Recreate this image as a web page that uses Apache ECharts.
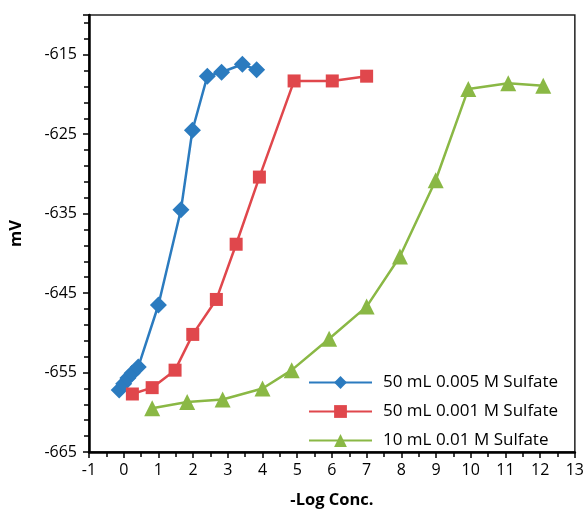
<!DOCTYPE html>
<html><head><meta charset="utf-8">
<script src="https://cdn.jsdelivr.net/npm/echarts@6/dist/echarts.min.js"></script>
<style>html,body{margin:0;padding:0;background:#fff}#c{width:587px;height:514px}</style>
</head><body><div id="c"></div>
<script>
const seriesNames = ["50 mL 0.005 M Sulfate", "50 mL 0.001 M Sulfate", "10 mL 0.01 M Sulfate"];
const blueX = [-0.13, 0.0, 0.12, 0.24, 0.42, 1.0, 1.65, 1.98, 2.41, 2.82, 3.42, 3.83];
const blueY = [-657.2, -656.4, -655.7, -655.1, -654.3, -646.5, -634.5, -624.5, -617.7, -617.2, -616.2, -616.9];
const redX = [0.25, 0.82, 1.48, 1.99, 2.67, 3.24, 3.91, 4.91, 6.01, 7.0];
const redY = [-657.7, -656.9, -654.7, -650.2, -645.8, -638.85, -630.4, -618.3, -618.3, -617.7];
const greenX = [0.82, 1.83, 2.85, 4.0, 4.84, 5.92, 7.0, 7.96, 8.99, 9.93, 11.08, 12.09];
const greenY = [-659.5, -658.7, -658.4, -657.0, -654.7, -650.75, -646.7, -640.4, -630.8, -619.3, -618.6, -618.9];
const colors = ["#2b7bbf", "#e0474c", "#8ab845"];
const symbols = ["diamond", "rect", "triangle"];
const symbolSizes = [17, 13, 16];

function pairs(xs, ys) { return xs.map((x, i) => [x, ys[i]]); }
const dataSets = [pairs(blueX, blueY), pairs(redX, redY), pairs(greenX, greenY)];

const font = "'Open Sans', 'Noto Sans', sans-serif";
const chart = echarts.init(document.getElementById('c'), null, {renderer: 'canvas'});
chart.setOption({
  animation: false,
  color: colors,
  grid: {left: 89, right: 12, top: 15, bottom: 61, show: true, borderColor: '#222', borderWidth: 1.5, containLabel: false},
  xAxis: {
    type: 'value', min: -1, max: 13, interval: 1,
    name: '-Log Conc.', nameLocation: 'middle', nameGap: 40,
    nameTextStyle: {fontFamily: font, fontWeight: 'bold', fontSize: 16.5, color: '#000'},
    axisLine: {show: true, onZero: false, lineStyle: {color: '#000', width: 2.5}},
    axisTick: {show: true, inside: false, length: 6, lineStyle: {color: '#000', width: 1.5}},
    minorTick: {show: true, splitNumber: 2, length: 5, lineStyle: {color: '#000', width: 1.5}},
    splitLine: {show: false},
    axisLabel: {fontFamily: font, fontSize: 16, color: '#000', margin: 10}
  },
  yAxis: {
    type: 'value', min: -665, max: -610, interval: 10,
    name: 'mV', nameLocation: 'middle', nameGap: 64, nameRotate: 90,
    nameTextStyle: {fontFamily: font, fontWeight: 'bold', fontSize: 16.5, color: '#000'},
    axisLine: {show: true, onZero: false, lineStyle: {color: '#000', width: 2.5}},
    axisTick: {show: true, inside: false, length: 6, lineStyle: {color: '#000', width: 1.5}},
    minorTick: {show: true, splitNumber: 5, length: 5, lineStyle: {color: '#000', width: 1.5}},
    splitLine: {show: false},
    axisLabel: {fontFamily: font, fontSize: 16, color: '#000', margin: 12, showMaxLabel: false}
  },
  legend: {
    orient: 'vertical', left: 303, top: 369, itemWidth: 63, itemHeight: 16, itemGap: 12,
    textStyle: {fontFamily: font, fontSize: 17, color: '#000', padding: [0, 0, 0, 6]},
    data: seriesNames
  },
  series: dataSets.map((d, i) => ({
    name: seriesNames[i], type: 'line', data: d,
    symbol: symbols[i], symbolSize: symbolSizes[i],
    lineStyle: {width: 2.5, color: colors[i]},
    itemStyle: {color: colors[i]}
  }))
});
</script></body></html>
